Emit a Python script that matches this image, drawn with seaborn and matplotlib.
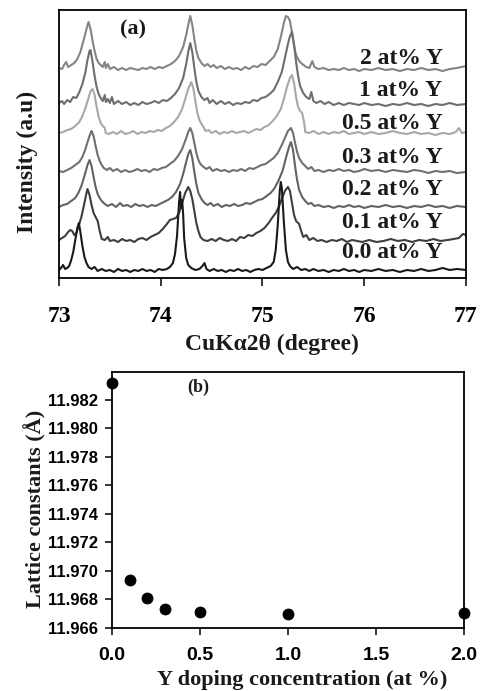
import matplotlib
matplotlib.use("Agg")
import pandas as pd
import matplotlib.pyplot as plt
from matplotlib.ticker import FormatStrFormatter
import seaborn as sns

# ---- panel (a): XRD scans, (2theta, counts above own baseline)
scan_2 = [(73.00, 3), (73.03, 2), (73.05, 6), (73.07, 9), (73.09, 4), (73.12, 6), (73.15, 8), (73.18, 12),
          (73.21, 19), (73.24, 30), (73.27, 42), (73.29, 49), (73.31, 42), (73.33, 30), (73.35, 20), (73.37, 12),
          (73.39, 8), (73.41, 6), (73.43, 4), (73.45, 9), (73.46, 3), (73.48, 7), (73.50, 2), (73.54, 4),
          (73.58, 1), (73.62, 3), (73.66, 1), (73.70, 3), (73.74, 2), (73.78, 1), (73.82, 3), (73.86, 2),
          (73.90, 4), (73.94, 2), (73.98, 4), (74.02, 3), (74.06, 5), (74.10, 7), (74.14, 10), (74.18, 15),
          (74.22, 24), (74.25, 36), (74.27, 46), (74.29, 55), (74.31, 46), (74.33, 32), (74.35, 20), (74.37, 13),
          (74.40, 8), (74.43, 5), (74.46, 7), (74.49, 4), (74.52, 6), (74.55, 3), (74.59, 5), (74.63, 2),
          (74.67, 4), (74.71, 2), (74.75, 3), (74.79, 1), (74.83, 4), (74.87, 2), (74.91, 5), (74.95, 4),
          (74.99, 7), (75.03, 6), (75.07, 10), (75.11, 14), (75.15, 22), (75.18, 34), (75.21, 48), (75.23, 55),
          (75.25, 54), (75.27, 50), (75.29, 38), (75.31, 25), (75.33, 16), (75.36, 10), (75.39, 7), (75.43, 4),
          (75.46, 3), (75.49, 10), (75.51, 4), (75.55, 2), (75.60, 3), (75.65, 1), (75.70, 2), (75.75, 1),
          (75.80, 3), (75.85, 1), (75.90, 2), (75.95, 0), (76.00, 2), (76.07, 1), (76.14, 3), (76.21, 1),
          (76.28, 2), (76.35, 0), (76.42, 2), (76.49, 1), (76.56, 3), (76.63, 1), (76.70, 2), (76.77, 0),
          (76.84, 2), (76.91, 3), (77.00, 5)]

scan_1 = [(73.00, 3), (73.03, 5), (73.05, 2), (73.08, 6), (73.11, 4), (73.14, 9), (73.17, 8), (73.20, 14),
          (73.23, 22), (73.26, 34), (73.28, 46), (73.30, 55), (73.31, 56), (73.33, 44), (73.35, 30), (73.37, 19),
          (73.39, 12), (73.41, 8), (73.43, 5), (73.45, 11), (73.46, 4), (73.48, 7), (73.50, 3), (73.52, 9),
          (73.54, 2), (73.58, 5), (73.62, 2), (73.66, 4), (73.70, 1), (73.74, 3), (73.78, 1), (73.82, 4),
          (73.86, 2), (73.90, 3), (73.94, 5), (73.98, 3), (74.02, 6), (74.06, 5), (74.10, 8), (74.14, 12),
          (74.18, 18), (74.22, 28), (74.25, 42), (74.27, 54), (74.29, 63), (74.31, 54), (74.33, 38), (74.35, 24),
          (74.37, 15), (74.40, 9), (74.43, 6), (74.46, 8), (74.48, 3), (74.51, 6), (74.55, 2), (74.59, 5),
          (74.63, 2), (74.67, 4), (74.71, 1), (74.75, 3), (74.79, 2), (74.83, 4), (74.87, 3), (74.91, 6),
          (74.95, 5), (74.99, 8), (75.03, 9), (75.07, 12), (75.11, 16), (75.15, 24), (75.19, 34), (75.22, 48),
          (75.25, 62), (75.27, 70), (75.29, 74), (75.31, 62), (75.33, 44), (75.35, 30), (75.37, 20), (75.40, 13),
          (75.43, 9), (75.46, 7), (75.48, 14), (75.50, 5), (75.53, 3), (75.57, 5), (75.61, 2), (75.65, 4),
          (75.70, 1), (75.75, 3), (75.80, 1), (75.85, 3), (75.90, 2), (75.95, 1), (76.00, 3), (76.07, 1),
          (76.14, 2), (76.21, 0), (76.28, 2), (76.35, 1), (76.42, 3), (76.49, 1), (76.56, 2), (76.63, 0),
          (76.70, 2), (76.77, 1), (76.84, 3), (76.91, 1), (77.00, 2)]

scan_05 = [(73.00, 2), (73.04, 3), (73.08, 5), (73.12, 6), (73.16, 9), (73.20, 13), (73.23, 19), (73.26, 27),
           (73.29, 37), (73.31, 44), (73.33, 46), (73.35, 40), (73.37, 28), (73.39, 18), (73.41, 12), (73.43, 9),
           (73.45, 7), (73.46, 2), (73.49, 1), (73.53, 3), (73.57, 1), (73.61, 4), (73.65, 1), (73.69, 2),
           (73.73, 4), (73.77, 1), (73.81, 3), (73.85, 2), (73.89, 4), (73.93, 3), (73.97, 5), (74.01, 4),
           (74.05, 7), (74.09, 9), (74.13, 13), (74.17, 18), (74.21, 26), (74.24, 36), (74.27, 46), (74.30, 53),
           (74.32, 47), (74.34, 34), (74.36, 22), (74.38, 15), (74.40, 11), (74.42, 8), (74.44, 4), (74.47, 5),
           (74.50, 2), (74.54, 4), (74.58, 1), (74.62, 3), (74.66, 2), (74.70, 4), (74.74, 2), (74.78, 3),
           (74.82, 4), (74.86, 2), (74.90, 4), (74.94, 6), (74.98, 5), (75.02, 8), (75.06, 10), (75.10, 14),
           (75.14, 19), (75.18, 26), (75.21, 36), (75.24, 48), (75.27, 57), (75.29, 60), (75.31, 52), (75.33, 38),
           (75.35, 28), (75.37, 24), (75.39, 22), (75.41, 12), (75.42, 3), (75.46, 2), (75.50, 4), (75.55, 1),
           (75.60, 3), (75.65, 1), (75.70, 3), (75.75, 2), (75.80, 4), (75.85, 1), (75.90, 2), (75.95, 3),
           (76.00, 1), (76.07, 3), (76.14, 1), (76.21, 2), (76.28, 4), (76.35, 2), (76.42, 1), (76.49, 3),
           (76.56, 1), (76.63, 2), (76.70, 0), (76.77, 2), (76.84, 1), (76.90, 3), (76.93, 7), (76.96, 2),
           (77.00, 3)]

scan_03 = [(73.00, 2), (73.04, 1), (73.08, 3), (73.12, 5), (73.16, 8), (73.20, 11), (73.23, 16), (73.26, 24),
           (73.29, 34), (73.31, 40), (73.32, 42), (73.34, 37), (73.36, 27), (73.38, 18), (73.40, 12), (73.42, 8),
           (73.44, 5), (73.47, 3), (73.50, 5), (73.53, 2), (73.57, 4), (73.61, 1), (73.65, 3), (73.69, 1),
           (73.73, 2), (73.77, 4), (73.81, 2), (73.85, 3), (73.89, 1), (73.93, 4), (73.97, 3), (74.01, 5),
           (74.05, 6), (74.09, 9), (74.13, 12), (74.17, 17), (74.21, 24), (74.24, 32), (74.27, 41), (74.29, 45),
           (74.31, 40), (74.33, 30), (74.35, 20), (74.37, 13), (74.39, 9), (74.42, 6), (74.45, 4), (74.48, 6),
           (74.51, 2), (74.55, 4), (74.59, 2), (74.63, 3), (74.67, 1), (74.71, 3), (74.75, 2), (74.79, 4),
           (74.83, 2), (74.87, 5), (74.91, 4), (74.95, 6), (74.99, 8), (75.03, 9), (75.07, 12), (75.11, 15),
           (75.15, 20), (75.19, 28), (75.22, 35), (75.25, 42), (75.28, 45), (75.30, 40), (75.32, 30), (75.34, 21),
           (75.36, 15), (75.39, 10), (75.42, 7), (75.45, 4), (75.48, 6), (75.51, 2), (75.55, 3), (75.60, 1),
           (75.65, 3), (75.70, 2), (75.75, 4), (75.80, 2), (75.85, 3), (75.90, 1), (75.95, 2), (76.00, 4),
           (76.07, 2), (76.14, 3), (76.21, 1), (76.28, 3), (76.35, 2), (76.42, 1), (76.49, 3), (76.56, 2),
           (76.63, 0), (76.70, 2), (76.77, 1), (76.84, 2), (76.91, 0), (77.00, 1)]

scan_02 = [(73.00, 1), (73.04, 3), (73.08, 4), (73.12, 7), (73.16, 10), (73.19, 15), (73.22, 22), (73.25, 32),
           (73.28, 43), (73.30, 48), (73.32, 42), (73.34, 31), (73.36, 21), (73.38, 14), (73.40, 10), (73.42, 7),
           (73.45, 4), (73.48, 2), (73.52, 4), (73.56, 1), (73.60, 5), (73.63, 2), (73.67, 3), (73.71, 1),
           (73.75, 4), (73.79, 2), (73.83, 3), (73.87, 1), (73.91, 3), (73.95, 2), (73.99, 4), (74.03, 6),
           (74.07, 8), (74.11, 11), (74.15, 16), (74.19, 24), (74.22, 34), (74.25, 46), (74.27, 54), (74.29, 58),
           (74.31, 50), (74.33, 36), (74.35, 24), (74.37, 15), (74.40, 9), (74.43, 5), (74.46, 3), (74.49, 5),
           (74.52, 2), (74.56, 4), (74.60, 1), (74.64, 3), (74.68, 2), (74.72, 4), (74.76, 2), (74.80, 3),
           (74.84, 5), (74.88, 4), (74.92, 6), (74.96, 8), (75.00, 9), (75.04, 12), (75.08, 15), (75.12, 20),
           (75.16, 28), (75.20, 38), (75.23, 50), (75.26, 61), (75.28, 66), (75.30, 58), (75.32, 42), (75.34, 28),
           (75.36, 18), (75.39, 11), (75.42, 7), (75.45, 4), (75.48, 5), (75.51, 2), (75.55, 3), (75.60, 1),
           (75.65, 2), (75.70, 0), (75.75, 2), (75.80, 1), (75.85, 3), (75.90, 1), (75.95, 2), (76.00, 0),
           (76.07, 2), (76.14, 1), (76.21, 3), (76.28, 1), (76.35, 2), (76.42, 0), (76.49, 2), (76.56, 1),
           (76.63, 3), (76.70, 1), (76.77, 2), (76.84, 0), (76.91, 2), (77.00, 1)]

scan_01 = [(73.00, 3), (73.03, 5), (73.06, 7), (73.09, 11), (73.11, 13), (73.13, 12), (73.15, 8), (73.17, 10),
           (73.19, 16), (73.22, 26), (73.25, 40), (73.27, 50), (73.28, 54), (73.30, 48), (73.32, 38), (73.34, 30),
           (73.36, 26), (73.38, 22), (73.40, 12), (73.42, 4), (73.45, 3), (73.48, 6), (73.50, 2), (73.54, 3),
           (73.58, 1), (73.62, 4), (73.66, 2), (73.70, 3), (73.74, 1), (73.78, 4), (73.82, 5), (73.86, 3),
           (73.90, 6), (73.94, 8), (73.98, 10), (74.02, 14), (74.06, 19), (74.09, 23), (74.12, 24), (74.15, 25),
           (74.18, 30), (74.21, 40), (74.24, 50), (74.27, 56), (74.29, 52), (74.31, 44), (74.33, 32), (74.35, 20),
           (74.37, 12), (74.39, 6), (74.42, 3), (74.46, 2), (74.50, 4), (74.54, 2), (74.58, 5), (74.62, 3),
           (74.66, 2), (74.70, 4), (74.74, 2), (74.78, 6), (74.82, 5), (74.86, 8), (74.90, 7), (74.94, 10),
           (74.98, 12), (75.02, 15), (75.06, 20), (75.10, 26), (75.13, 30), (75.16, 36), (75.19, 44), (75.22, 52),
           (75.25, 56), (75.27, 52), (75.29, 40), (75.31, 28), (75.33, 22), (75.36, 19), (75.38, 12), (75.40, 6),
           (75.43, 8), (75.46, 3), (75.50, 5), (75.54, 2), (75.58, 3), (75.63, 1), (75.68, 3), (75.73, 2),
           (75.78, 4), (75.83, 1), (75.88, 3), (75.93, 2), (75.98, 1), (76.05, 3), (76.12, 1), (76.19, 2),
           (76.26, 4), (76.33, 2), (76.40, 3), (76.47, 1), (76.54, 3), (76.61, 2), (76.68, 4), (76.75, 2),
           (76.82, 3), (76.88, 4), (76.93, 5), (76.97, 9), (77.00, 8)]

scan_00 = [(73.00, 2), (73.02, 4), (73.04, 7), (73.06, 3), (73.08, 4), (73.10, 6), (73.12, 12), (73.14, 20),
           (73.16, 32), (73.18, 44), (73.195, 49), (73.21, 40), (73.23, 26), (73.25, 15), (73.27, 9), (73.29, 5),
           (73.32, 3), (73.35, 5), (73.38, 1), (73.42, 3), (73.46, 1), (73.50, 2), (73.54, 0), (73.58, 3),
           (73.62, 1), (73.66, 2), (73.70, 0), (73.74, 2), (73.78, 1), (73.82, 3), (73.86, 1), (73.90, 2),
           (73.94, 0), (73.98, 3), (74.02, 2), (74.06, 3), (74.09, 5), (74.12, 9), (74.14, 18), (74.16, 36),
           (74.18, 70), (74.19, 80), (74.20, 64), (74.21, 72), (74.22, 58), (74.23, 34), (74.25, 14), (74.27, 7),
           (74.30, 4), (74.34, 2), (74.38, 3), (74.41, 6), (74.43, 9), (74.45, 3), (74.48, 1), (74.52, 3),
           (74.56, 1), (74.60, 2), (74.64, 0), (74.68, 2), (74.72, 1), (74.76, 3), (74.80, 1), (74.84, 2),
           (74.88, 0), (74.92, 2), (74.96, 3), (75.00, 2), (75.04, 4), (75.08, 6), (75.11, 10), (75.13, 22),
           (75.15, 47), (75.17, 82), (75.18, 90), (75.19, 84), (75.21, 50), (75.23, 22), (75.25, 10), (75.27, 6),
           (75.30, 3), (75.34, 5), (75.38, 2), (75.42, 3), (75.46, 1), (75.50, 3), (75.55, 1), (75.60, 2),
           (75.65, 0), (75.70, 2), (75.75, 1), (75.80, 3), (75.85, 1), (75.90, 2), (75.95, 0), (76.00, 2),
           (76.07, 1), (76.14, 3), (76.21, 1), (76.28, 2), (76.35, 0), (76.42, 2), (76.49, 1), (76.56, 3),
           (76.63, 1), (76.70, 2), (76.77, 4), (76.84, 2), (76.91, 3), (77.00, 2)]

sample_names = ["2 at% Y", "1 at% Y", "0.5 at% Y", "0.3 at% Y", "0.2 at% Y", "0.1 at% Y", "0.0 at% Y"]
scans = [scan_2, scan_1, scan_05, scan_03, scan_02, scan_01, scan_00]
offsets = [207, 172, 143, 105, 70, 35, 6]          # vertical stacking
label_y = [220, 188, 155, 121, 88, 55, 25]
line_colors = ["#858585", "#6e6e6e", "#a8a8a8", "#707070", "#636363", "#3e3e3e", "#1a1a1a"]

# ---- panel (b): lattice constant vs Y doping
doping = [0.0, 0.1, 0.2, 0.3, 0.5, 1.0, 2.0]
lattice = [11.98317, 11.96937, 11.96813, 11.96736, 11.96710, 11.96696, 11.96708]
doping_ticks = [0.0, 0.5, 1.0, 1.5, 2.0]
lattice_ticks = [11.966, 11.968, 11.970, 11.972, 11.974, 11.976, 11.978, 11.980, 11.982]

rows = []
for name, scan, off in zip(sample_names, scans, offsets):
    for tt, cnt in scan:
        rows.append({"two_theta": tt, "intensity": cnt + off, "sample": name})
df_xrd = pd.DataFrame(rows)
df_lat = pd.DataFrame({"doping": doping, "lattice": lattice})

sns.set_style("ticks")
plt.rcParams["font.family"] = ["Liberation Serif", "DejaVu Serif"]
plt.rcParams["axes.edgecolor"] = "black"
plt.rcParams["xtick.color"] = "black"
plt.rcParams["ytick.color"] = "black"
plt.rcParams["text.color"] = "#1a1a1a"
plt.rcParams["axes.labelcolor"] = "#1a1a1a"

fig = plt.figure(figsize=(4.84, 6.91), dpi=100)
ax1 = fig.add_axes([0.1219, 0.5977, 0.8409, 0.3878])
ax2 = fig.add_axes([0.2314, 0.0912, 0.7273, 0.3705])

# (a) stacked diffraction patterns
sns.lineplot(data=df_xrd, x="two_theta", y="intensity", hue="sample", hue_order=sample_names,
             palette=dict(zip(sample_names, line_colors)), sort=False, estimator=None,
             linewidth=1.5, legend=False, ax=ax1)
ax1.set_xlim(73, 77)
ax1.set_ylim(0, 268)
ax1.set_xticks([73, 74, 75, 76, 77])
ax1.set_yticks([])
ax1.tick_params(axis="x", direction="out", length=6, width=1.1, pad=14, labelsize=17)
for lbl in ax1.get_xticklabels():
    lbl.set_fontweight("bold")
for sp in ax1.spines.values():
    sp.set_linewidth(1.3)
for name, ly in zip(sample_names, label_y):
    ax1.text(76.77, ly, name, ha="right", va="center", fontsize=17, fontweight="bold")
ax1.text(73.724, 249, "(a)", ha="center", va="center", fontsize=16, fontweight="bold")
ax1.set_xlabel("CuKα2θ (degree)", fontsize=17, fontweight="bold")
ax1.xaxis.set_label_coords(0.522, -0.21)
ax1.set_ylabel("Intensity (a.u)", fontsize=17, fontweight="bold")
ax1.yaxis.set_label_coords(-0.052, 0.433)

# (b) lattice constants
sns.scatterplot(data=df_lat, x="doping", y="lattice", color="black", edgecolor="black",
                s=62, clip_on=False, zorder=3, ax=ax2)
ax2.set_xlim(0, 2.0)
ax2.set_ylim(11.966, 11.98396)
ax2.set_xticks(doping_ticks)
ax2.set_yticks(lattice_ticks)
ax2.yaxis.set_major_formatter(FormatStrFormatter("%.3f"))
ax2.xaxis.set_major_formatter(FormatStrFormatter("%.1f"))
ax2.tick_params(axis="x", direction="out", length=5, width=1.1, pad=9, labelsize=14)
ax2.tick_params(axis="y", direction="out", length=5, width=1.1, pad=5, labelsize=12)
for lbl in ax2.get_xticklabels() + ax2.get_yticklabels():
    lbl.set_family(["Liberation Sans", "DejaVu Sans"])
    lbl.set_fontweight("bold")
for sp in ax2.spines.values():
    sp.set_linewidth(1.3)
ax2.text(0.244, 0.941, "(b)", transform=ax2.transAxes, ha="center", va="center",
         fontsize=13, fontweight="bold")
ax2.set_xlabel("Y doping concentration (at %)", fontsize=16, fontweight="bold")
ax2.xaxis.set_label_coords(0.539, -0.165)
ax2.set_ylabel("Lattice constants (Å)", fontsize=16, fontweight="bold")
ax2.yaxis.set_label_coords(-0.185, 0.465)

fig.savefig("out.png", dpi=100)
